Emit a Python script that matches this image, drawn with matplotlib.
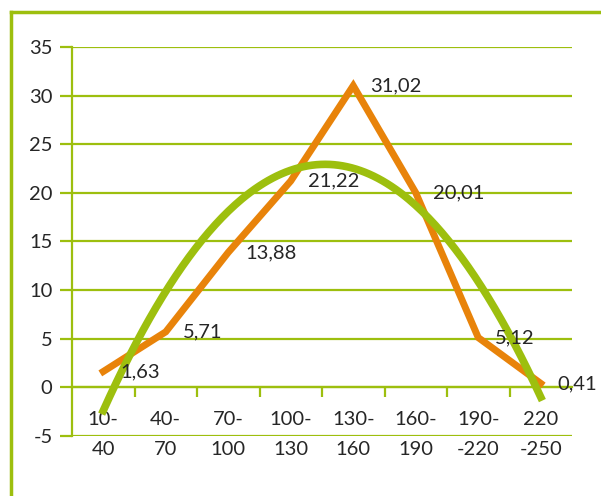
import matplotlib
matplotlib.use("Agg")
import matplotlib.pyplot as plt
from matplotlib.lines import Line2D
import numpy as np

categories = ["10-\n40", "40-\n70", "70-\n100", "100-\n130", "130-\n160", "160-\n190", "190-\n-220", "220\n-250"]
values = [1.63, 5.71, 13.88, 21.22, 31.02, 20.01, 5.12, 0.41]

orange = "#e8830a"
green = "#9dbf0e"
text_color = "#262626"

plt.rcParams["font.family"] = ["Lato", "DejaVu Sans"]
plt.rcParams["axes.unicode_minus"] = False

fig = plt.figure(figsize=(6.01, 4.96), dpi=100)
ax = fig.add_axes([72 / 601, 1 - 436 / 496, 500 / 601, 389 / 496])

x = np.arange(len(values))
ax.plot(x, values, color=orange, lw=5, solid_joinstyle="miter", zorder=3)

# polynomial trendline (order 2), as in the spreadsheet
coef = np.polyfit(x, values, 2)
xs = np.linspace(x[0], x[-1], 200)
ax.plot(xs, np.polyval(coef, xs), color=green, lw=5.5, zorder=4)

for xi, v in zip(x, values):
    ax.annotate(f"{v:.2f}".replace(".", ","), (xi, v), xytext=(17, 0),
                textcoords="offset pixels", ha="left", va="center",
                fontsize=14.5, color=text_color, zorder=5)

ax.set_xlim(-0.5, len(values) - 0.5)
ax.set_ylim(-5, 35)
ax.set_yticks(range(-5, 40, 5))
ax.grid(axis="y", color=green, lw=1.6)
ax.set_axisbelow(True)

for s in ["top", "right"]:
    ax.spines[s].set_visible(False)
ax.spines["left"].set_color(green)
ax.spines["left"].set_linewidth(1.6)
ax.spines["bottom"].set_position(("data", 0))
ax.spines["bottom"].set_color(green)
ax.spines["bottom"].set_linewidth(1.6)

ax.set_xticks(x)
ax.set_xticklabels(categories, linespacing=1.95)
ax.set_xticks(np.arange(0.5, len(values) - 0.5), minor=True)
ax.tick_params(axis="x", which="major", length=0, pad=17, labelsize=14.5, labelcolor=text_color)
ax.tick_params(axis="x", which="minor", length=7, width=1.6, color=green, direction="out")
ax.tick_params(axis="y", length=9, width=1.6, color=green, pad=5, labelsize=14.5, labelcolor=text_color)

# outer frame: only left and top edges fall inside the picture
fig.add_artist(Line2D([11 / 601, 11 / 601], [0, 1 - 12 / 496], transform=fig.transFigure, color=green, lw=2.5))
fig.add_artist(Line2D([11 / 601, 1], [1 - 12 / 496, 1 - 12 / 496], transform=fig.transFigure, color=green, lw=2.5))

fig.savefig("out.png", dpi=100)
